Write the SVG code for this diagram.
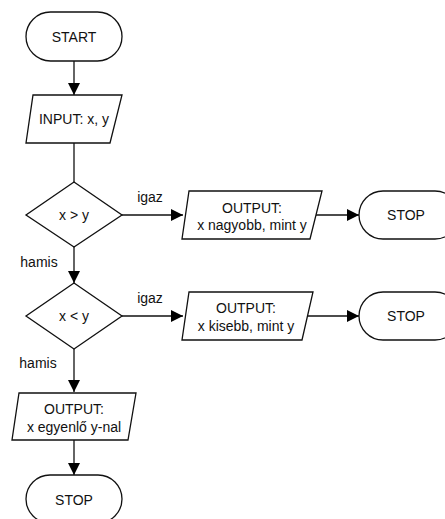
<svg xmlns="http://www.w3.org/2000/svg" width="445" height="519" viewBox="0 0 445 519">
<defs>
<marker id="ah" viewBox="0 0 12 12" refX="12" refY="6" markerWidth="12" markerHeight="12" markerUnits="userSpaceOnUse" orient="auto">
<path d="M0,0 L12,6 L0,12 Z" fill="#000"/>
</marker>
<style>
.s{fill:#fff;stroke:#111;stroke-width:1.3}
.c{fill:none;stroke:#111;stroke-width:1.3}
text{font-family:"Liberation Sans",Arial,sans-serif;font-size:14px;fill:#111}
.m{text-anchor:middle}
</style>
</defs>
<rect width="445" height="519" fill="#fff"/>
<g id="connectors">
<path class="c" d="M74,61 V95" marker-end="url(#ah)"/>
<path class="c" d="M74,143 V182"/>
<path class="c" d="M122,215 H183" marker-end="url(#ah)"/>
<path class="c" d="M316,215 H359" marker-end="url(#ah)"/>
<path class="c" d="M74,247 V283" marker-end="url(#ah)"/>
<path class="c" d="M122,316 H183" marker-end="url(#ah)"/>
<path class="c" d="M308,316 H359" marker-end="url(#ah)"/>
<path class="c" d="M74,349 V392" marker-end="url(#ah)"/>
<path class="c" d="M74,440 V475" marker-end="url(#ah)"/>
<text x="150" y="202" class="m">igaz</text>
<text x="39" y="267" class="m">hamis</text>
<text x="150" y="303" class="m">igaz</text>
<text x="38" y="368" class="m">hamis</text>
</g>
<g id="start">
<rect class="s" x="26" y="12" width="96" height="49" rx="24.5"/>
<text x="74" y="42" class="m">START</text>
</g>
<g id="input">
<polygon class="s" points="33,95 122,95 110,143 26,143"/>
<text x="74" y="124" class="m">INPUT: x, y</text>
</g>
<g id="dec1">
<polygon class="s" points="74,182 122,215 74,247 26,215"/>
<text x="74" y="220" class="m">x &gt; y</text>
</g>
<g id="out1">
<polygon class="s" points="189,191 322,191 310,239 182,239"/>
<text x="252" y="213" class="m">OUTPUT:</text>
<text x="252" y="230" class="m">x nagyobb, mint y</text>
</g>
<g id="stop1">
<rect class="s" x="359" y="191" width="100" height="48" rx="24"/>
<text x="406" y="220" class="m">STOP</text>
</g>
<g id="dec2">
<polygon class="s" points="74,283 122,316 74,349 26,316"/>
<text x="74" y="321" class="m">x &lt; y</text>
</g>
<g id="out2">
<polygon class="s" points="189,292 313,292 302,340 182,340"/>
<text x="246" y="313" class="m">OUTPUT:</text>
<text x="246" y="331" class="m">x kisebb, mint y</text>
</g>
<g id="stop2">
<rect class="s" x="359" y="292" width="100" height="48" rx="24"/>
<text x="406" y="321" class="m">STOP</text>
</g>
<g id="out3">
<polygon class="s" points="19,393 136,393 128,440 12,440"/>
<text x="74" y="414" class="m">OUTPUT:</text>
<text x="74" y="432" class="m">x egyenlő y-nal</text>
</g>
<g id="stop3">
<rect class="s" x="26" y="475" width="96" height="48" rx="24"/>
<text x="74" y="505" class="m">STOP</text>
</g>
</svg>
